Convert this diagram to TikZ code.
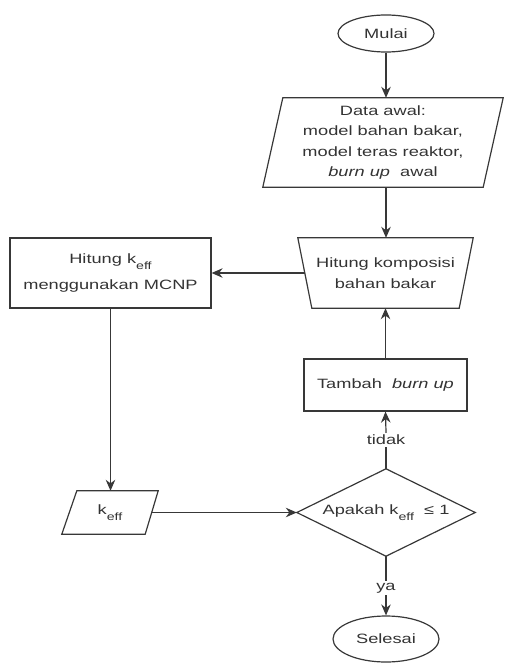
\documentclass[tikz,border=0pt]{standalone}
\usepackage{fontspec}
\setmainfont{Liberation Sans}[FakeStretch=1.35]
\usetikzlibrary{arrows.meta,shapes.geometric}
\tikzset{
  base/.style={font=\fontsize{13.5}{20.5}\selectfont, text=black!80, inner sep=0pt, align=center},
  outline/.style={draw=black!78, line width=1.2pt},
  boxnode/.style={base, outline, rectangle},
  ovalnode/.style={base, outline, ellipse},
  frame/.style={base, rectangle, draw=none},
  lbl/.style={base, inner sep=2pt, fill=white},
  conn/.style={draw=black!78, line width=1.2pt},
  arr/.style={conn, -{Stealth[length=11pt,width=9.5pt]}}
}
\newcommand{\keffsub}{k\raisebox{-0.45em}{\fontsize{10.5}{10.5}\selectfont eff}}
\begin{document}
\begin{tikzpicture}[x=1pt,y=-1pt]
\useasboundingbox (0,0) rectangle (504,663);
% nodes
\node[ovalnode, minimum width=96pt, minimum height=37pt] (mulai) at (386,33.5) {Mulai};
\node[frame, minimum width=240pt, minimum height=89pt] (data) at (383,142.5)
  {Data awal:\\ model bahan bakar,\\ model teras reaktor,\\ \textit{burn up}\ \ awal};
\draw[outline] ([xshift=20pt]data.north west) -- (data.north east) -- ([xshift=-20pt]data.south east) -- (data.south west) -- cycle;
\node[frame, minimum width=175pt, minimum height=70pt] (komp) at (385.5,273) {Hitung komposisi\\ bahan bakar};
\draw[outline] (komp.north west) -- (komp.north east) -- ([xshift=-14pt]komp.south east) -- ([xshift=14pt]komp.south west) -- cycle;
\node[boxnode, minimum width=201pt, minimum height=70pt] (mcnp) at (110.5,273) {Hitung \keffsub\\[5pt] menggunakan MCNP};
\node[boxnode, minimum width=163pt, minimum height=52pt] (tambah) at (385.5,385) {Tambah \ \textit{burn up}};
\node[frame, minimum width=178pt, minimum height=87pt] (dia) at (386,512.5) {Apakah \keffsub\ \ ≤ 1};
\draw[outline] (dia.north) -- (dia.east) -- (dia.south) -- (dia.west) -- cycle;
\node[frame, minimum width=96pt, minimum height=43pt] (keff) at (110,512.5) {\keffsub};
\draw[outline] ([xshift=15pt]keff.north west) -- (keff.north east) -- ([xshift=-13pt]keff.south east) -- (keff.south west) -- cycle;
\node[ovalnode, minimum width=106pt, minimum height=46pt] (selesai) at (386,639) {Selesai};
\node[lbl] (tidak) at (386,440) {tidak};
\node[lbl] (ya) at (386,588) {ya};
% connectors
\draw[arr] (mulai.south) -- (mulai.south |- data.north);
\draw[arr] (mulai.south |- data.south) -- (mulai.south |- komp.north);
\draw[arr] ([xshift=7.5pt]komp.west) -- (mcnp.east);
\draw[arr] (mcnp.south) -- (mcnp.south |- keff.north);
\draw[arr] ([xshift=-6.5pt]keff.east) -- (dia.west);
\draw[conn] (dia.north) -- (tidak.south);
\draw[arr] (tidak.north) -- (tambah.south);
\draw[arr] (tambah.north) -- (tambah.north |- komp.south);
\draw[conn] (dia.south) -- (ya.north);
\draw[arr] (ya.south) -- (selesai.north);
\end{tikzpicture}
\end{document}
